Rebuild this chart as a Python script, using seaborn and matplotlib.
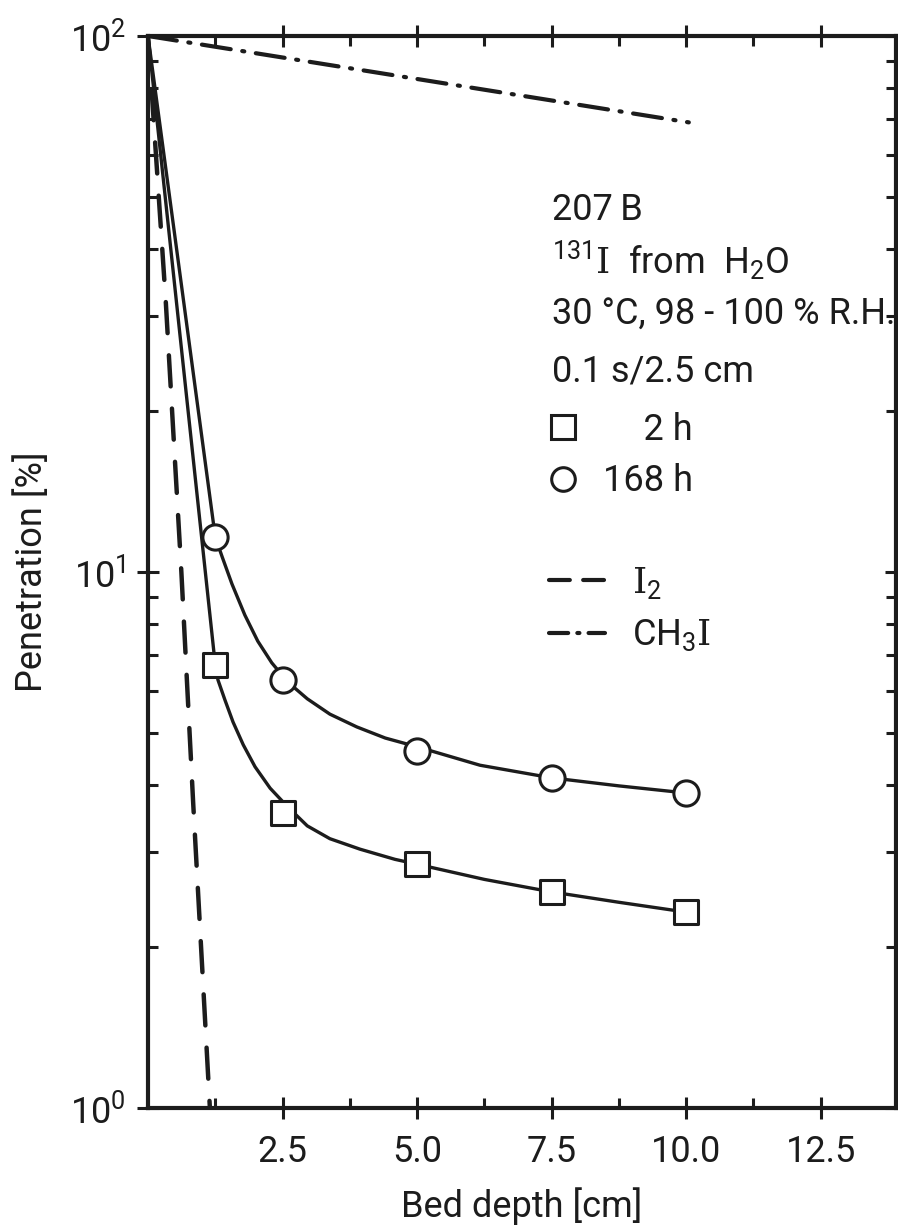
import numpy as np
import pandas as pd
import matplotlib
matplotlib.use("Agg")
import matplotlib.pyplot as plt
import seaborn as sns
from matplotlib.lines import Line2D
from matplotlib.ticker import FixedLocator, FixedFormatter, LogLocator, NullFormatter

# ---------------- data ----------------
bed_depth = [1.25, 2.5, 5.0, 7.5, 10.0]
pen_2h = [6.7, 3.55, 2.85, 2.53, 2.32]
pen_168h = [11.6, 6.3, 4.63, 4.13, 3.87]

# hand-drawn fit curves through the measurements (traced points)
fit_2h_x = [0.0, 1.25, 1.30, 1.43, 1.58, 1.77, 1.99, 2.27, 2.58, 2.96, 3.38,
            3.94, 4.59, 5.0, 6.25, 7.5, 8.75, 10.0]
fit_2h_y = [100, 6.71, 6.29, 5.77, 5.25, 4.76, 4.33, 3.95, 3.66, 3.36, 3.18,
            3.04, 2.91, 2.85, 2.67, 2.53, 2.42, 2.32]
fit_168h_x = [0.0, 1.25, 1.38, 1.56, 1.80, 2.04, 2.30, 2.60, 2.96, 3.38,
              3.88, 4.41, 5.0, 6.17, 7.5, 8.75, 10.0]
fit_168h_y = [100, 11.62, 10.66, 9.50, 8.31, 7.43, 6.77, 6.23, 5.80, 5.43,
              5.14, 4.90, 4.72, 4.36, 4.13, 3.99, 3.87]

# reference lines for elemental iodine and methyl iodide
i2_x = [0.0, 0.33, 0.62, 0.84, 1.15]
i2_y = [100, 32, 10, 3.7, 1.0]
ch3i_x = [0.0, 10.05]
ch3i_y = [100, 69]

x_major = [2.5, 5.0, 7.5, 10.0, 12.5]
x_major_labels = ["2.5", "5.0", "7.5", "10.0", "12.5"]
x_minor = [1.25, 3.75, 6.25, 8.75, 11.25]
y_major = [1, 10, 100]
y_major_labels = ["10$^0$", "10$^1$", "10$^2$"]

info_lines = ["207\u2009B", r"$^{131}\mathrm{I}$  from  H$_2$O", "30 °C, 98 - 100 % R.H.", "0.1 s/2.5 cm"]
series_labels = ["\u2007\u20072 h", "168 h"]
ref_labels = [r"$\mathrm{I}_2$", r"CH$_3\mathrm{I}$"]

# ---------------- style ----------------
sns.set_theme(style="ticks")
plt.rcParams['font.family'] = ['Roboto', 'DejaVu Sans']
plt.rcParams['mathtext.fontset'] = 'custom'
plt.rcParams['mathtext.rm'] = 'DejaVu Serif'
plt.rcParams['mathtext.default'] = 'regular'

INK = "#1c1c1c"
FS = 26

fig = plt.figure(figsize=(8.98, 12.32), dpi=100)
ax = fig.add_axes([148 / 898, 1 - 1108 / 1232, 748 / 898, 1072 / 1232])
ax.set_yscale("log")

# curves
sns.lineplot(x=fit_2h_x, y=fit_2h_y, ax=ax, color=INK, lw=2.4, estimator=None, sort=False)
sns.lineplot(x=fit_168h_x, y=fit_168h_y, ax=ax, color=INK, lw=2.4, estimator=None, sort=False)
sns.lineplot(x=i2_x, y=i2_y, ax=ax, color=INK, lw=3.2, estimator=None, sort=False,
             linestyle=(0, (7.0, 5.0)), dash_capstyle="round")
sns.lineplot(x=ch3i_x, y=ch3i_y, ax=ax, color=INK, lw=3.0, estimator=None, sort=False,
             linestyle=(0, (7.0, 2.8, 0.5, 2.8)), dash_capstyle="round")

# measured points
sns.scatterplot(x=bed_depth, y=pen_2h, ax=ax, marker="s", s=300, color="white",
                edgecolor=INK, linewidth=2.2, zorder=5)
sns.scatterplot(x=bed_depth, y=pen_168h, ax=ax, marker="o", s=330, color="white",
                edgecolor=INK, linewidth=2.2, zorder=5)

ax.set_xlim(0, 13.9)
ax.set_ylim(1, 100)

ax.xaxis.set_major_locator(FixedLocator(x_major))
ax.xaxis.set_major_formatter(FixedFormatter(x_major_labels))
ax.xaxis.set_minor_locator(FixedLocator(x_minor))
ax.xaxis.set_minor_formatter(NullFormatter())
ax.yaxis.set_major_locator(FixedLocator(y_major))
ax.yaxis.set_major_formatter(FixedFormatter(y_major_labels))
ax.yaxis.set_minor_locator(LogLocator(base=10, subs=np.arange(2, 10)))
ax.yaxis.set_minor_formatter(NullFormatter())

ax.tick_params(which="major", direction="inout", length=16, width=2.2, color=INK,
               top=True, right=True, labelsize=FS, labelcolor=INK)
ax.tick_params(axis="x", which="major", pad=11)
ax.tick_params(axis="y", which="major", pad=8)
ax.tick_params(which="minor", direction="in", length=7, width=2.2, color=INK,
               top=True, right=True)

for side in ["left", "bottom", "top", "right"]:
    ax.spines[side].set_linewidth(3.0)
    ax.spines[side].set_color(INK)

ax.set_xlabel("Bed depth [cm]", fontsize=FS, color=INK, labelpad=12)
ax.set_ylabel("Penetration [%]", fontsize=FS, color=INK, labelpad=14)

# annotation block
def axx(px):
    return (px - 148) / 748

def axy(py):
    return (1108 - py) / 1072

for txt, base in zip(info_lines, [220, 273, 325, 382]):
    ax.text(axx(552), axy(base), txt, transform=ax.transAxes, fontsize=FS,
            color=INK, ha="left", va="baseline")

mk_handles = [
    Line2D([], [], ls="none", marker="s", ms=17, mfc="white", mec=INK, mew=2.2),
    Line2D([], [], ls="none", marker="o", ms=17, mfc="white", mec=INK, mew=2.2),
]
leg1 = ax.legend(mk_handles, series_labels, loc="upper left",
                 bbox_to_anchor=(axx(549), axy(412)), frameon=False, fontsize=FS,
                 handlelength=0.8, handletextpad=0.7, labelspacing=0.42,
                 borderpad=0, borderaxespad=0, labelcolor=INK)
ax.add_artist(leg1)
ln_handles = [
    Line2D([], [], color=INK, lw=3.0, linestyle=(0, (5.0, 3.2)), dash_capstyle="round"),
    Line2D([], [], color=INK, lw=3.0, linestyle=(0, (4.6, 2.2, 0.5, 2.2)), dash_capstyle="round"),
]
ax.legend(ln_handles, ref_labels, loc="upper left",
          bbox_to_anchor=(axx(549), axy(565)), frameon=False, fontsize=FS,
          handlelength=1.55, handletextpad=0.75, labelspacing=0.45,
          borderpad=0, borderaxespad=0, labelcolor=INK)

fig.savefig("out.png", dpi=100)
